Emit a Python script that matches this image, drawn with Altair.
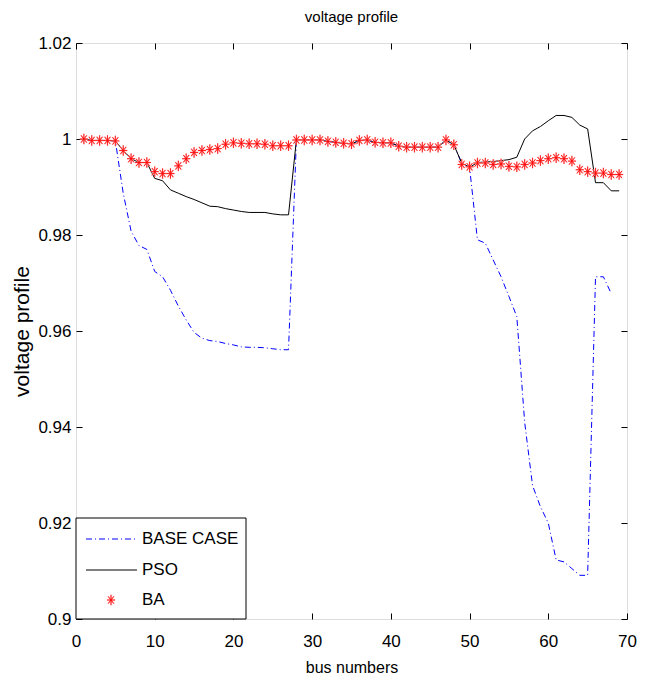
import altair as alt
import pandas as pd

# ---------------- data ----------------
bus_numbers = list(range(1, 70))
base_bus_numbers = list(range(1, 69))

ba_voltage = [1.0000, 0.9997, 0.9997, 0.9997, 0.9996, 0.9976, 0.9959, 0.9951, 0.9951, 0.9932,
              0.9928, 0.9928, 0.9944, 0.9959, 0.9972, 0.9976, 0.9978, 0.9980, 0.9989, 0.9992,
              0.9991, 0.9990, 0.9990, 0.9989, 0.9986, 0.9986, 0.9986, 0.9998, 0.9998, 0.9998,
              0.9998, 0.9995, 0.9993, 0.9991, 0.9990, 0.9997, 0.9998, 0.9993, 0.9992, 0.9992,
              0.9985, 0.9983, 0.9983, 0.9983, 0.9983, 0.9983, 0.9998, 0.9988, 0.9947, 0.9942,
              0.9950, 0.9950, 0.9947, 0.9948, 0.9943, 0.9942, 0.9947, 0.9950, 0.9955, 0.9959,
              0.9961, 0.9959, 0.9954, 0.9936, 0.9932, 0.9929, 0.9929, 0.9926, 0.9926]

pso_voltage = [1.0000, 0.9997, 0.9997, 0.9997, 0.9996, 0.9976, 0.9959, 0.9951, 0.9951, 0.9918,
               0.9913, 0.9894, 0.9887, 0.9880, 0.9874, 0.9867, 0.9860, 0.9859, 0.9855, 0.9852,
               0.9849, 0.9847, 0.9847, 0.9847, 0.9844, 0.9842, 0.9842, 0.9998, 0.9998, 0.9998,
               0.9998, 0.9995, 0.9993, 0.9991, 0.9990, 0.9997, 0.9998, 0.9993, 0.9992, 0.9992,
               0.9985, 0.9983, 0.9983, 0.9983, 0.9983, 0.9983, 0.9998, 0.9988, 0.9950, 0.9941,
               0.9951, 0.9952, 0.9953, 0.9955, 0.9957, 0.9962, 1.0000, 1.0017, 1.0026, 1.0038,
               1.0049, 1.0049, 1.0045, 1.0029, 1.0021, 0.9909, 0.9909, 0.9892, 0.9892]

base_voltage = [1.0000, 0.9997, 0.9997, 0.9997, 0.9996, 0.9887, 0.9808, 0.9778, 0.9770, 0.9724,
                0.9713, 0.9685, 0.9652, 0.9623, 0.9597, 0.9585, 0.9580, 0.9578, 0.9574, 0.9571,
                0.9567, 0.9566, 0.9566, 0.9565, 0.9563, 0.9561, 0.9561, 0.9998, 0.9998, 0.9998,
                0.9998, 0.9995, 0.9993, 0.9991, 0.9990, 0.9997, 0.9998, 0.9993, 0.9992, 0.9992,
                0.9985, 0.9983, 0.9983, 0.9983, 0.9983, 0.9983, 0.9998, 0.9988, 0.9950, 0.9941,
                0.9790, 0.9783, 0.9748, 0.9713, 0.9672, 0.9630, 0.9410, 0.9278, 0.9234, 0.9200,
                0.9123, 0.9119, 0.9105, 0.9091, 0.9091, 0.9713, 0.9713, 0.9678]

x_ticks = [0, 10, 20, 30, 40, 50, 60, 70]
y_ticks = [0.9, 0.92, 0.94, 0.96, 0.98, 1.0, 1.02]
series_names = ["BASE CASE", "PSO", "BA"]
chart_title = "voltage profile"

df_base = pd.DataFrame({"bus": base_bus_numbers, "v": base_voltage})
df_pso = pd.DataFrame({"bus": bus_numbers, "v": pso_voltage})
df_ba = pd.DataFrame({"bus": bus_numbers, "v": ba_voltage})

# ---------------- style ----------------
W, H = 551, 576
FONT = "Liberation Sans, Arial, sans-serif"
STAR = "M-0.77,0L0.77,0M0,-1L0,1M-0.55,-0.7L0.55,0.7M-0.55,0.7L0.55,-0.7"
HALO = "#ffaaaa"

xs = alt.Scale(domain=[0, 70], nice=False, zero=False)
ys = alt.Scale(domain=[0.9, 1.02], nice=False, zero=False)

ax_bottom = alt.Axis(values=x_ticks, orient="bottom", title="bus numbers", offset=-6, tickSize=6,
                     domain=False, grid=False, tickColor="black", labelColor="black",
                     labelFont=FONT, labelFontSize=17, labelPadding=14, labelFlush=False,
                     titleFont=FONT, titleFontSize=16, titleFontWeight="normal",
                     titleColor="black", titleBaseline="alphabetic", titleX=W / 2, titleY=59,
                     minExtent=0)
ax_left = alt.Axis(values=y_ticks, orient="left", title="voltage profile", format=".2~f",
                   offset=-6, tickSize=6, domain=False, grid=False, tickColor="black",
                   labelColor="black", labelFont=FONT, labelFontSize=17, labelPadding=5,
                   labelFlush=False, titleFont=FONT, titleFontSize=21, titleFontWeight="normal",
                   titleColor="black", titleBaseline="middle", titleX=-60, titleY=H / 2,
                   minExtent=0)
ax_top = alt.Axis(values=x_ticks, orient="top", title=None, labels=False, offset=-6, tickSize=6,
                  domain=False, grid=False, tickColor="black", minExtent=0)
ax_right = alt.Axis(values=y_ticks, orient="right", title=None, labels=False, offset=-6,
                    tickSize=6, domain=False, grid=False, tickColor="black", minExtent=0)

base_line = alt.Chart(df_base).mark_line(color="#0000ff", strokeWidth=1, strokeDash=[6, 3, 1, 3]).encode(
    x=alt.X("bus:Q", scale=xs, axis=ax_bottom),
    y=alt.Y("v:Q", scale=ys, axis=ax_left),
)
pso_line = alt.Chart(df_pso).mark_line(color="black", strokeWidth=1).encode(
    x=alt.X("bus:Q", scale=xs, axis=ax_top),
    y=alt.Y("v:Q", scale=ys, axis=ax_right),
)
ba_halo = alt.Chart(df_ba).mark_point(shape=STAR, size=110, filled=False, color=HALO,
                                      strokeWidth=1.4, opacity=1).encode(
    x=alt.X("bus:Q", scale=xs, axis=None),
    y=alt.Y("v:Q", scale=ys, axis=None),
)
ba_core = alt.Chart(df_ba).mark_point(shape=STAR, size=110, filled=False, color="#ff0000",
                                      strokeWidth=0.8, opacity=1).encode(
    x=alt.X("bus:Q", scale=xs, axis=None),
    y=alt.Y("v:Q", scale=ys, axis=None),
)

# ---------------- title & legend (drawn by hand) ----------------
one = pd.DataFrame({"k": [0]})
title_mark = alt.Chart(one).mark_text(align="center", baseline="alphabetic", font=FONT,
                                      fontSize=15, color="black").encode(
    x=alt.value(W / 2), y=alt.value(-21), text=alt.value(chart_title))
leg_box = alt.Chart(one).mark_rect(fill="white", stroke="black", strokeWidth=1).encode(
    x=alt.value(0), x2=alt.value(170), y=alt.value(475), y2=alt.value(576))
leg_base = alt.Chart(one).mark_rule(color="#0000ff", strokeWidth=1, strokeDash=[6, 3, 1, 3]).encode(
    x=alt.value(10), x2=alt.value(61), y=alt.value(496))
leg_pso = alt.Chart(one).mark_rule(color="black", strokeWidth=1).encode(
    x=alt.value(10), x2=alt.value(61), y=alt.value(527))
leg_ba_halo = alt.Chart(one).mark_point(shape=STAR, size=110, filled=False, color=HALO,
                                        strokeWidth=1.4, opacity=1).encode(
    x=alt.value(35), y=alt.value(557))
leg_ba_core = alt.Chart(one).mark_point(shape=STAR, size=110, filled=False, color="#ff0000",
                                        strokeWidth=0.8, opacity=1).encode(
    x=alt.value(35), y=alt.value(557))
leg_texts = []
for name, yy in zip(series_names, [496, 527, 557]):
    leg_texts.append(
        alt.Chart(one).mark_text(align="left", baseline="middle", font=FONT, fontSize=17,
                                 color="black").encode(
            x=alt.value(66), y=alt.value(yy), text=alt.value(name))
    )

chart = alt.layer(
    base_line, pso_line, ba_halo, ba_core, title_mark,
    leg_box, leg_base, leg_pso, leg_ba_halo, leg_ba_core, *leg_texts,
).resolve_axis(x="independent", y="independent").properties(
    width=W, height=H,
    autosize=alt.AutoSizeParams(type="none"),
    padding={"left": 76, "top": 43, "right": 20, "bottom": 58},
).configure_view(stroke="black", strokeWidth=1.3).configure(background="white")

chart.save("out.html", embed_options={"renderer": "svg", "actions": False})
